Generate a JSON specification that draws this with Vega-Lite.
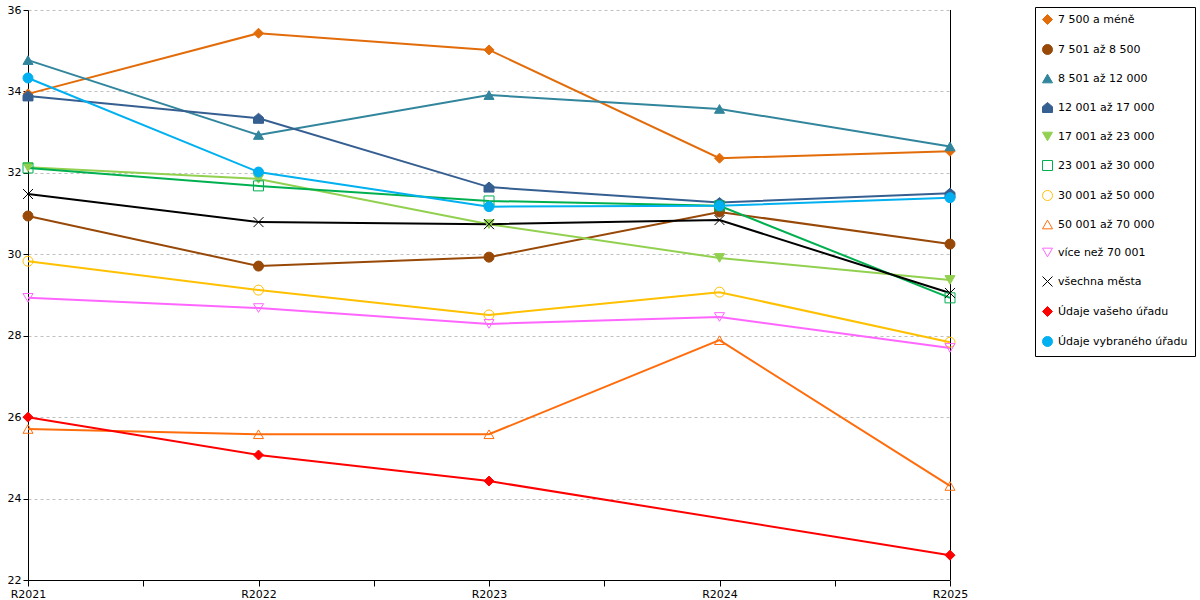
{
  "$schema": "https://vega.github.io/schema/vega-lite/v6.json",
  "width": 922,
  "height": 570,
  "autosize": "none",
  "padding": {"left": 28, "top": 10, "right": 250, "bottom": 20},
  "background": "white",
  "config": {
    "font": "DejaVu Sans",
    "view": {"stroke": null},
    "axis": {"labelFont": "DejaVu Sans", "labelFontSize": 11, "labelColor": "black", "domainColor": "black", "tickColor": "black", "title": null},
    "legend": {"labelFont": "DejaVu Sans", "orient": "none", "legendX": 1007, "legendY": -3, "strokeColor": "black", "fillColor": "white", "padding": 7, "rowPadding": 15, "labelFontSize": 11, "labelColor": "black", "symbolSize": 100, "symbolStrokeWidth": 1, "labelOffset": 5, "labelLimit": 300}
  },
  "data": {"values": [
    {"rok": 2021, "kategorie": "7 500 a méně", "hodnota": 33.94},
    {"rok": 2022, "kategorie": "7 500 a méně", "hodnota": 35.43},
    {"rok": 2023, "kategorie": "7 500 a méně", "hodnota": 35.02},
    {"rok": 2024, "kategorie": "7 500 a méně", "hodnota": 32.36},
    {"rok": 2025, "kategorie": "7 500 a méně", "hodnota": 32.53},
    {"rok": 2021, "kategorie": "7 501 až 8 500", "hodnota": 30.94},
    {"rok": 2022, "kategorie": "7 501 až 8 500", "hodnota": 29.71},
    {"rok": 2023, "kategorie": "7 501 až 8 500", "hodnota": 29.93},
    {"rok": 2024, "kategorie": "7 501 až 8 500", "hodnota": 31.04},
    {"rok": 2025, "kategorie": "7 501 až 8 500", "hodnota": 30.25},
    {"rok": 2021, "kategorie": "8 501 až 12 000", "hodnota": 34.77},
    {"rok": 2022, "kategorie": "8 501 až 12 000", "hodnota": 32.93},
    {"rok": 2023, "kategorie": "8 501 až 12 000", "hodnota": 33.91},
    {"rok": 2024, "kategorie": "8 501 až 12 000", "hodnota": 33.57},
    {"rok": 2025, "kategorie": "8 501 až 12 000", "hodnota": 32.65},
    {"rok": 2021, "kategorie": "12 001 až 17 000", "hodnota": 33.89},
    {"rok": 2022, "kategorie": "12 001 až 17 000", "hodnota": 33.34},
    {"rok": 2023, "kategorie": "12 001 až 17 000", "hodnota": 31.65},
    {"rok": 2024, "kategorie": "12 001 až 17 000", "hodnota": 31.27},
    {"rok": 2025, "kategorie": "12 001 až 17 000", "hodnota": 31.50},
    {"rok": 2021, "kategorie": "17 001 až 23 000", "hodnota": 32.14},
    {"rok": 2022, "kategorie": "17 001 až 23 000", "hodnota": 31.85},
    {"rok": 2023, "kategorie": "17 001 až 23 000", "hodnota": 30.74},
    {"rok": 2024, "kategorie": "17 001 až 23 000", "hodnota": 29.91},
    {"rok": 2025, "kategorie": "17 001 až 23 000", "hodnota": 29.37},
    {"rok": 2021, "kategorie": "23 001 až 30 000", "hodnota": 32.12},
    {"rok": 2022, "kategorie": "23 001 až 30 000", "hodnota": 31.68},
    {"rok": 2023, "kategorie": "23 001 až 30 000", "hodnota": 31.31},
    {"rok": 2024, "kategorie": "23 001 až 30 000", "hodnota": 31.19},
    {"rok": 2025, "kategorie": "23 001 až 30 000", "hodnota": 28.93},
    {"rok": 2021, "kategorie": "30 001 až 50 000", "hodnota": 29.83},
    {"rok": 2022, "kategorie": "30 001 až 50 000", "hodnota": 29.12},
    {"rok": 2023, "kategorie": "30 001 až 50 000", "hodnota": 28.51},
    {"rok": 2024, "kategorie": "30 001 až 50 000", "hodnota": 29.07},
    {"rok": 2025, "kategorie": "30 001 až 50 000", "hodnota": 27.84},
    {"rok": 2021, "kategorie": "50 001 až 70 000", "hodnota": 25.71},
    {"rok": 2022, "kategorie": "50 001 až 70 000", "hodnota": 25.58},
    {"rok": 2023, "kategorie": "50 001 až 70 000", "hodnota": 25.58},
    {"rok": 2024, "kategorie": "50 001 až 70 000", "hodnota": 27.89},
    {"rok": 2025, "kategorie": "50 001 až 70 000", "hodnota": 24.31},
    {"rok": 2021, "kategorie": "více než 70 001", "hodnota": 28.93},
    {"rok": 2022, "kategorie": "více než 70 001", "hodnota": 28.68},
    {"rok": 2023, "kategorie": "více než 70 001", "hodnota": 28.29},
    {"rok": 2024, "kategorie": "více než 70 001", "hodnota": 28.46},
    {"rok": 2025, "kategorie": "více než 70 001", "hodnota": 27.70},
    {"rok": 2021, "kategorie": "všechna města", "hodnota": 31.48},
    {"rok": 2022, "kategorie": "všechna města", "hodnota": 30.79},
    {"rok": 2023, "kategorie": "všechna města", "hodnota": 30.74},
    {"rok": 2024, "kategorie": "všechna města", "hodnota": 30.84},
    {"rok": 2025, "kategorie": "všechna města", "hodnota": 29.05},
    {"rok": 2021, "kategorie": "Údaje vašeho úřadu", "hodnota": 26.00},
    {"rok": 2022, "kategorie": "Údaje vašeho úřadu", "hodnota": 25.07},
    {"rok": 2023, "kategorie": "Údaje vašeho úřadu", "hodnota": 24.43},
    {"rok": 2025, "kategorie": "Údaje vašeho úřadu", "hodnota": 22.61},
    {"rok": 2021, "kategorie": "Údaje vybraného úřadu", "hodnota": 34.33},
    {"rok": 2022, "kategorie": "Údaje vybraného úřadu", "hodnota": 32.02},
    {"rok": 2023, "kategorie": "Údaje vybraného úřadu", "hodnota": 31.17},
    {"rok": 2024, "kategorie": "Údaje vybraného úřadu", "hodnota": 31.19},
    {"rok": 2025, "kategorie": "Údaje vybraného úřadu", "hodnota": 31.39}
  ]},
  "layer": [
    {
      "mark": {"type": "rule", "color": "black", "strokeWidth": 1, "xOffset": 0.5},
      "encoding": {
        "x": {"datum": 2025, "type": "quantitative"},
        "y": {"datum": 22, "type": "quantitative"},
        "y2": {"datum": 36}
      }
    },
    {
      "mark": {"type": "line", "strokeWidth": 2},
      "encoding": {
        "x": {
          "field": "rok", "type": "quantitative",
          "scale": {"domain": [2021, 2025], "nice": false, "zero": false},
          "axis": {
            "values": [2021, 2021.5, 2022, 2022.5, 2023, 2023.5, 2024, 2024.5, 2025],
            "labelExpr": "datum.value % 1 === 0 ? 'R' + datum.value : ''",
            "labelFlush": false, "labelOverlap": false, "grid": false,
            "tickSize": 6, "labelPadding": 2
          }
        },
        "y": {"field": "hodnota", "type": "quantitative",
          "scale": {"domain": [22, 36], "nice": false, "zero": false},
          "axis": {"values": [22, 24, 26, 28, 30, 32, 34, 36], "grid": true, "gridColor": "#c0c0c0", "gridDash": [3, 3], "tickSize": 5, "labelPadding": 2}},
        "stroke": {
          "field": "kategorie", "type": "nominal", "title": null,
          "scale": {
            "domain": ["7 500 a méně", "7 501 až 8 500", "8 501 až 12 000", "12 001 až 17 000", "17 001 až 23 000", "23 001 až 30 000", "30 001 až 50 000", "50 001 až 70 000", "více než 70 001", "všechna města", "Údaje vašeho úřadu", "Údaje vybraného úřadu"],
            "range": ["#E36C0A", "#984807", "#31859C", "#365F91", "#92D050", "#00B050", "#FFC000", "#FF6C0C", "#FF66FF", "#000000", "#FF0000", "#00B0F0"]
          }
        }
      }
    },
    {
      "mark": {"type": "point", "filled": false, "strokeWidth": 1, "opacity": 1, "size": 100},
      "encoding": {
        "x": {"field": "rok", "type": "quantitative"},
        "y": {"field": "hodnota", "type": "quantitative"},
        "shape": {
          "field": "kategorie", "type": "nominal", "title": null,
          "scale": {
            "domain": ["7 500 a méně", "7 501 až 8 500", "8 501 až 12 000", "12 001 až 17 000", "17 001 až 23 000", "23 001 až 30 000", "30 001 až 50 000", "50 001 až 70 000", "více než 70 001", "všechna města", "Údaje vašeho úřadu", "Údaje vybraného úřadu"],
            "range": ["diamond", "circle", "triangle-up", "M-1,1L-1,-0.15L0,-1L1,-0.15L1,1Z", "triangle-down", "square", "circle", "triangle-up", "triangle-down", "M-1,-1L1,1M1,-1L-1,1", "diamond", "circle"]
          }
        },
        "stroke": {"field": "kategorie", "type": "nominal", "title": null},
        "fill": {
          "field": "kategorie", "type": "nominal", "title": null,
          "scale": {
            "domain": ["7 500 a méně", "7 501 až 8 500", "8 501 až 12 000", "12 001 až 17 000", "17 001 až 23 000", "23 001 až 30 000", "30 001 až 50 000", "50 001 až 70 000", "více než 70 001", "všechna města", "Údaje vašeho úřadu", "Údaje vybraného úřadu"],
            "range": ["#E36C0A", "#984807", "#31859C", "#365F91", "#92D050", "transparent", "transparent", "transparent", "transparent", "transparent", "#FF0000", "#00B0F0"]
          }
        }
      }
    }
  ]
}
